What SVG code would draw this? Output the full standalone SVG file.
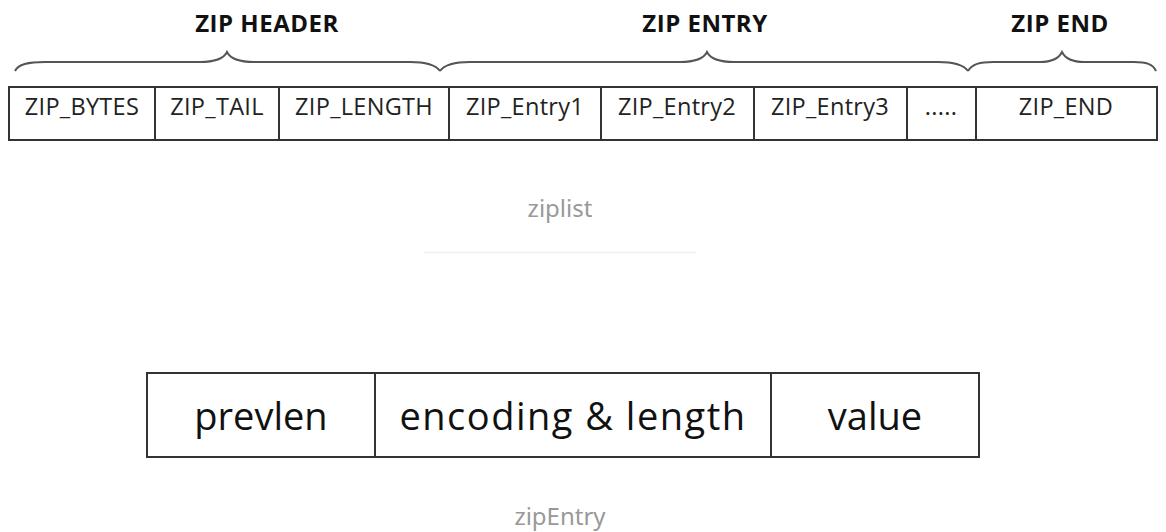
<svg xmlns="http://www.w3.org/2000/svg" width="1166" height="532" viewBox="0 0 1166 532">
<style>
.box{fill:#fff;stroke:#333;stroke-width:2}
.div{stroke:#333;stroke-width:2}
.brace{fill:none;stroke:#555;stroke-width:2}
.head{font-family:"Open Sans","Liberation Sans",sans-serif;font-weight:bold;font-size:24px;letter-spacing:0.5px;fill:#111;text-anchor:middle}
.cell{font-family:"Open Sans","Liberation Sans",sans-serif;font-size:23.5px;letter-spacing:0.3px;fill:#222;text-anchor:middle}
.big{font-family:"Open Sans","Liberation Sans",sans-serif;font-size:38px;fill:#111;text-anchor:middle}
.cap{font-family:"Noto Sans","Liberation Sans",sans-serif;font-size:24px;fill:#999;text-anchor:middle}
</style>
<rect width="1166" height="532" fill="#fff"/>
<g id="braces">
<path class="brace" d="M15,71 C18,64 28,62 45,62 L200,62 C215,62 224,58 227,52 C230,58 239,62 254,62 L410,62 C425,62 435,64 440,71"/>
<path class="brace" d="M440,71 C445,64 455,62 470,62 L680,62 C695,62 704,58 707,52 C710,58 719,62 734,62 L938,62 C953,62 963,64 968,71"/>
<path class="brace" d="M968,71 C972,64 980,62 993,62 L1040,62 C1052,62 1059,58 1062,52 C1065,58 1072,62 1084,62 L1134,62 C1146,62 1153,64 1156,71"/>
</g>
<g id="headers">
<text class="head" x="267" y="32">ZIP HEADER</text>
<text class="head" x="705" y="32">ZIP ENTRY</text>
<text class="head" x="1060" y="32">ZIP END</text>
</g>
<g id="ziplist">
<rect class="box" x="9" y="87" width="1148" height="53"/>
<line class="div" x1="155" y1="87" x2="155" y2="140"/>
<line class="div" x1="279" y1="87" x2="279" y2="140"/>
<line class="div" x1="449" y1="87" x2="449" y2="140"/>
<line class="div" x1="601" y1="87" x2="601" y2="140"/>
<line class="div" x1="754" y1="87" x2="754" y2="140"/>
<line class="div" x1="907" y1="87" x2="907" y2="140"/>
<line class="div" x1="976" y1="87" x2="976" y2="140"/>
<g id="zip_bytes"><text class="cell" x="82" y="115">ZIP_BYTES</text></g>
<g id="zip_tail"><text class="cell" x="217" y="115">ZIP_TAIL</text></g>
<g id="zip_length"><text class="cell" x="364" y="115">ZIP_LENGTH</text></g>
<g id="zip_entry1"><text class="cell" x="525" y="115">ZIP_Entry1</text></g>
<g id="zip_entry2"><text class="cell" x="677" y="115">ZIP_Entry2</text></g>
<g id="zip_entry3"><text class="cell" x="830" y="115">ZIP_Entry3</text></g>
<g id="dots"><text class="cell" x="941" y="115">.....</text></g>
<g id="zip_end"><text class="cell" x="1066" y="115">ZIP_END</text></g>
</g>
<text class="cap" x="560" y="217">ziplist</text>
<line x1="424" y1="252.5" x2="696" y2="252.5" stroke="#eee" stroke-width="1.5"/>
<g id="zipentry">
<rect class="box" x="147" y="373" width="832" height="84"/>
<line class="div" x1="375" y1="373" x2="375" y2="457"/>
<line class="div" x1="771" y1="373" x2="771" y2="457"/>
<g id="prevlen"><text class="big" x="261" y="430">prevlen</text></g>
<g id="encoding"><text class="big" x="573" y="430" letter-spacing="1.5">encoding &amp; length</text></g>
<g id="value"><text class="big" x="875" y="430">value</text></g>
</g>
<text class="cap" x="560" y="525">zipEntry</text>
</svg>
